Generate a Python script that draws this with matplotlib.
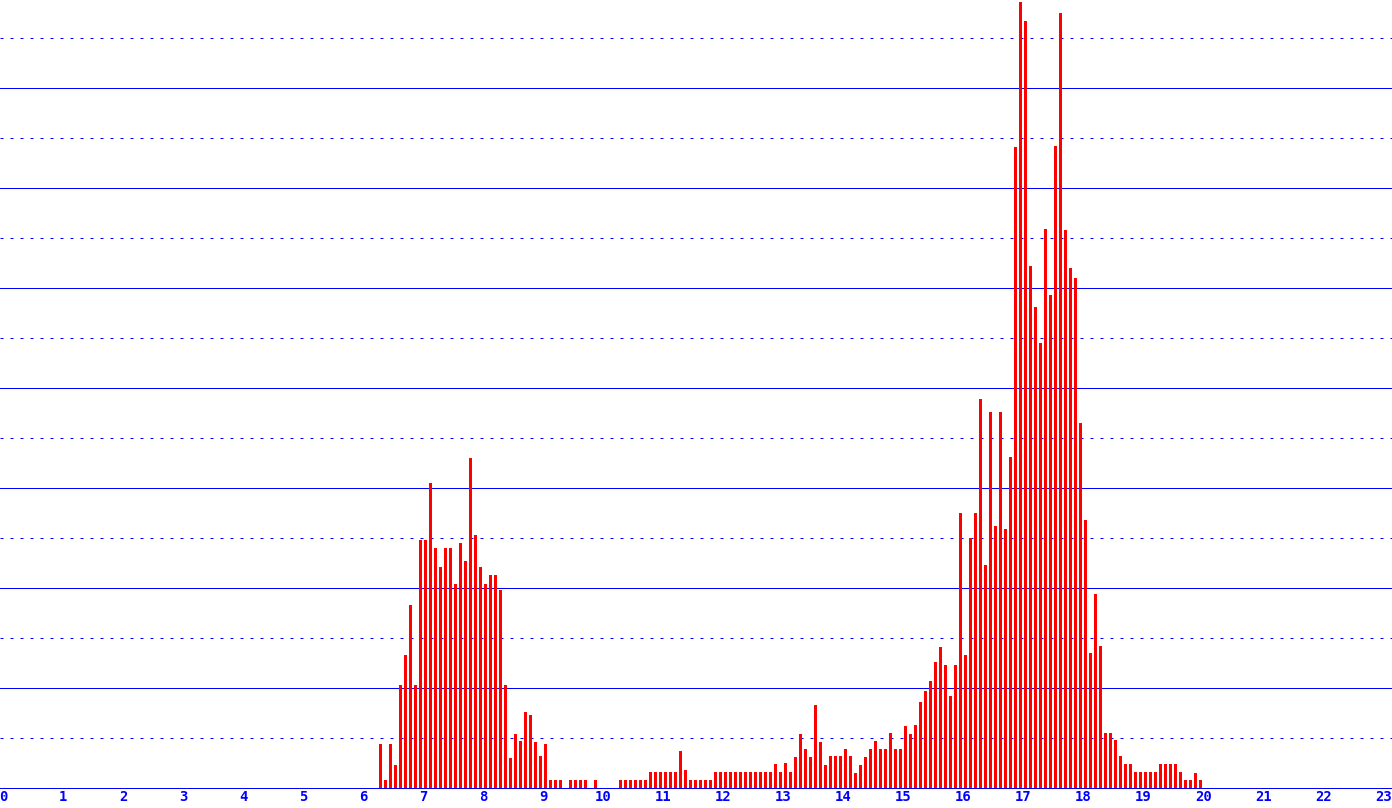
import matplotlib
matplotlib.use("Agg")
import matplotlib.pyplot as plt
import numpy as np

# 5-minute bins across the day; first bar is bin 75 (06:15-06:20)
first_bin = 75
bin_minutes = 5
values = [
    0.89, 0.16, 0.89, 0.47, 2.07, 2.67, 3.67, 2.07, 4.97, 4.97,   # 75-84
    6.11, 4.81, 4.43, 4.81, 4.81, 4.09, 4.91, 4.55, 6.61, 5.07,   # 85-94
    4.43, 4.09, 4.27, 4.27, 3.97, 2.07, 0.61, 1.09, 0.95, 1.53,   # 95-104
    1.47, 0.93, 0.65, 0.89, 0.16, 0.16, 0.16, 0.00, 0.16, 0.16,   # 105-114
    0.16, 0.16, 0.00, 0.16, 0.00, 0.00, 0.00, 0.00, 0.16, 0.16,   # 115-124
    0.16, 0.16, 0.16, 0.16, 0.33, 0.33, 0.33, 0.33, 0.33, 0.33,   # 125-134
    0.75, 0.37, 0.16, 0.16, 0.16, 0.16, 0.16, 0.33, 0.33, 0.33,   # 135-144
    0.33, 0.33, 0.33, 0.33, 0.33, 0.33, 0.33, 0.33, 0.33, 0.49,   # 145-154
    0.33, 0.51, 0.33, 0.62, 1.09, 0.78, 0.62, 1.67, 0.93, 0.47,   # 155-164
    0.65, 0.65, 0.65, 0.78, 0.65, 0.31, 0.47, 0.63, 0.78, 0.95,   # 165-174
    0.78, 0.78, 1.11, 0.78, 0.78, 1.25, 1.09, 1.27, 1.73, 1.95,   # 175-184
    2.15, 2.53, 2.83, 2.47, 1.85, 2.47, 5.51, 2.67, 5.00, 5.51,   # 185-194
    7.79, 4.47, 7.53, 5.25, 7.53, 5.19, 6.63, 12.83, 15.73, 15.35, # 195-204
    10.45, 9.63, 8.91, 11.19, 9.87, 12.85, 15.51, 11.17, 10.41, 10.21, # 205-214
    7.31, 5.37, 2.71, 3.89, 2.85, 1.11, 1.11, 0.97, 0.65, 0.49,   # 215-224
    0.49, 0.33, 0.33, 0.33, 0.33, 0.33, 0.49, 0.49, 0.49, 0.49,   # 225-234
    0.33, 0.16, 0.16, 0.31, 0.16,                                 # 235-239
]
hour_ticks = list(range(0, 24))
hour_labels = [str(h) for h in hour_ticks]
major_levels = list(range(0, 15, 2))
minor_levels = list(range(1, 16, 2))

bins = first_bin + np.arange(len(values))
centers = (bins + 0.5) * bin_minutes / 60.0

W, H = 1392, 808
fig = plt.figure(figsize=(W / 100, H / 100), dpi=100)
base_px = 788.3
ax = fig.add_axes([0, (H - base_px) / H, 1, base_px / H])

blue = "#0000ff"
red = "#ff0000"

for lv in major_levels:
    ax.axhline(lv, color=blue, lw=0.72, zorder=1, clip_on=False)
for lv in minor_levels:
    ax.axhline(lv, color=blue, lw=0.72, ls=(0, (3, 7)), zorder=1)

ax.bar(centers, values, width=0.045, color=red, linewidth=0, zorder=2,
       antialiased=False)

px_per_hour = 60.0
x0_px = 3.3
ax.set_xlim(-x0_px / px_per_hour, (W - x0_px) / px_per_hour)
ax.set_ylim(0, base_px / 50.0)

ax.set_xticks(hour_ticks)
ax.set_xticklabels(hour_labels, family="DejaVu Sans Mono", fontsize=10,
                   fontweight="bold", color=blue)
ax.tick_params(axis="x", length=0, pad=1.5)
ax.set_yticks([])
for s in ax.spines.values():
    s.set_visible(False)

fig.savefig("out.png", dpi=100)
